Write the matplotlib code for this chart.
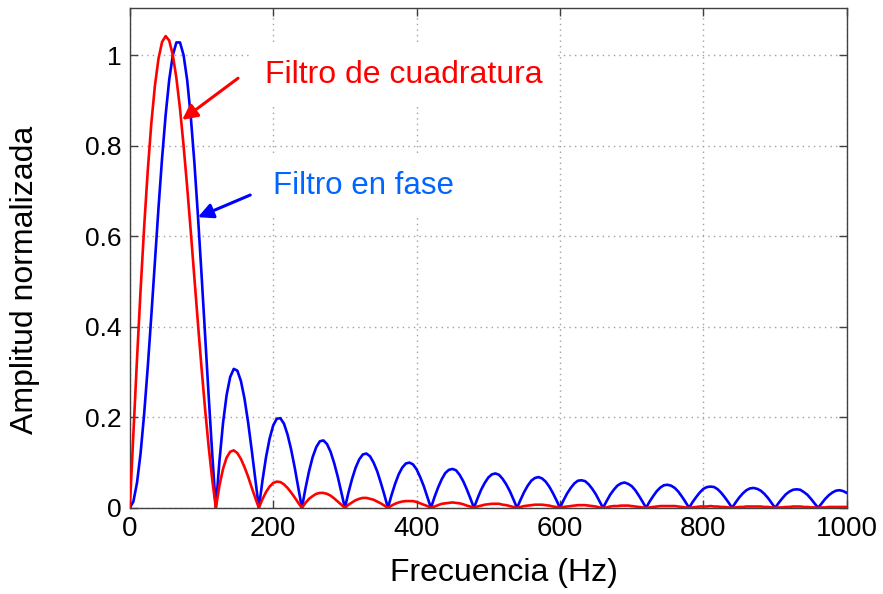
import numpy as np
import matplotlib
matplotlib.use("Agg")
import matplotlib.pyplot as plt

# Frequency grid (Hz), one sample every 5 Hz
freq = np.arange(0, 1001, 5)

# Normalised magnitude of the in-phase filter
en_fase = [
    0.000, 0.014, 0.055, 0.120, 0.207, 0.310, 0.424, 0.544, 0.662, 0.772,
    0.868, 0.946, 1.000, 1.028, 1.028, 1.000, 0.945, 0.865, 0.764, 0.646,
    0.517, 0.382, 0.247, 0.118,
    0.000, 0.103, 0.187, 0.249, 0.289, 0.307, 0.303, 0.280, 0.241, 0.189, 0.128, 0.064,
    0.000, 0.060, 0.112, 0.153, 0.182, 0.197, 0.198, 0.186, 0.162, 0.129, 0.089, 0.045,
    0.000, 0.043, 0.081, 0.112, 0.134, 0.147, 0.149, 0.141, 0.124, 0.099, 0.069, 0.035,
    0.000, 0.034, 0.064, 0.089, 0.107, 0.118, 0.120, 0.114, 0.100, 0.081, 0.056, 0.029,
    0.000, 0.028, 0.053, 0.074, 0.089, 0.098, 0.100, 0.096, 0.085, 0.068, 0.048, 0.024,
    0.000, 0.024, 0.045, 0.063, 0.077, 0.084, 0.086, 0.083, 0.073, 0.059, 0.041, 0.021,
    0.000, 0.021, 0.040, 0.055, 0.067, 0.074, 0.076, 0.073, 0.064, 0.052, 0.037, 0.019,
    0.000, 0.018, 0.035, 0.049, 0.060, 0.066, 0.068, 0.065, 0.058, 0.047, 0.033, 0.017,
    0.000, 0.017, 0.032, 0.044, 0.054, 0.060, 0.061, 0.059, 0.052, 0.042, 0.030, 0.015,
    0.000, 0.015, 0.029, 0.040, 0.049, 0.054, 0.056, 0.053, 0.048, 0.039, 0.027, 0.014,
    0.000, 0.014, 0.026, 0.037, 0.045, 0.050, 0.051, 0.049, 0.044, 0.036, 0.025, 0.013,
    0.000, 0.013, 0.024, 0.034, 0.042, 0.046, 0.047, 0.046, 0.041, 0.033, 0.023, 0.012,
    0.000, 0.012, 0.023, 0.032, 0.039, 0.043, 0.044, 0.042, 0.038, 0.031, 0.022, 0.011,
    0.000, 0.011, 0.021, 0.030, 0.036, 0.040, 0.041, 0.040, 0.035, 0.029, 0.020, 0.010,
    0.000, 0.010, 0.020, 0.028, 0.034, 0.038, 0.039, 0.037, 0.033,
]

# Normalised magnitude of the quadrature filter
cuadratura = [
    0.000, 0.166, 0.327, 0.480, 0.620, 0.744, 0.849, 0.932, 0.992, 1.029,
    1.042, 1.032, 1.000, 0.949, 0.882, 0.800, 0.709, 0.611, 0.509, 0.408,
    0.310, 0.218, 0.135, 0.062,
    0.000, 0.049, 0.086, 0.111, 0.124, 0.127, 0.121, 0.108, 0.090, 0.069, 0.045, 0.022,
    0.000, 0.019, 0.035, 0.047, 0.055, 0.058, 0.057, 0.052, 0.044, 0.034, 0.023, 0.011,
    0.000, 0.011, 0.020, 0.026, 0.031, 0.033, 0.033, 0.031, 0.027, 0.021, 0.014, 0.007,
    0.000, 0.007, 0.012, 0.017, 0.020, 0.022, 0.022, 0.020, 0.018, 0.014, 0.010, 0.005,
    0.000, 0.005, 0.009, 0.012, 0.014, 0.015, 0.015, 0.015, 0.013, 0.010, 0.007, 0.004,
    0.000, 0.003, 0.006, 0.009, 0.010, 0.011, 0.012, 0.011, 0.010, 0.008, 0.005, 0.003,
    0.000, 0.003, 0.005, 0.007, 0.008, 0.009, 0.009, 0.009, 0.007, 0.006, 0.004, 0.002,
    0.000, 0.002, 0.004, 0.005, 0.006, 0.007, 0.007, 0.007, 0.006, 0.005, 0.003, 0.002,
    0.000, 0.002, 0.003, 0.004, 0.005, 0.006, 0.006, 0.006, 0.005, 0.004, 0.003, 0.001,
    0.000, 0.001, 0.003, 0.004, 0.004, 0.005, 0.005, 0.005, 0.004, 0.003, 0.002, 0.001,
    0.000, 0.001, 0.002, 0.003, 0.004, 0.004, 0.004, 0.004, 0.004, 0.003, 0.002, 0.001,
    0.000, 0.001, 0.002, 0.003, 0.003, 0.003, 0.004, 0.003, 0.003, 0.002, 0.002, 0.001,
    0.000, 0.001, 0.002, 0.002, 0.003, 0.003, 0.003, 0.003, 0.003, 0.002, 0.002, 0.001,
    0.000, 0.001, 0.001, 0.002, 0.002, 0.003, 0.003, 0.003, 0.002, 0.002, 0.001, 0.001,
    0.000, 0.001, 0.001, 0.002, 0.002, 0.002, 0.002, 0.002, 0.002,
]

x_ticks = [0, 200, 400, 600, 800, 1000]
y_ticks = [0, 0.2, 0.4, 0.6, 0.8, 1.0]
y_tick_labels = ["0", "0.2", "0.4", "0.6", "0.8", "1"]

plt.rcParams["font.family"] = ["Liberation Sans", "DejaVu Sans"]

fig = plt.figure(figsize=(8.83, 5.94), dpi=100)
ax = fig.add_axes([0.147, 0.145, 0.812, 0.8415])

ax.plot(freq, en_fase, color="#0000ff", lw=1.9, zorder=3)
ax.plot(freq, cuadratura, color="#ff0000", lw=1.9, zorder=4)

ax.set_xlim(0, 1000)
ax.set_ylim(0, 1.104)
ax.set_xticks(x_ticks)
ax.set_yticks(y_ticks)
ax.set_yticklabels(y_tick_labels)

edge = "#404040"
for s in ax.spines.values():
    s.set_color(edge)
    s.set_linewidth(1.0)
ax.tick_params(direction="in", length=5.5, width=1.0, color=edge,
               top=True, right=True, labelsize=19, pad=6)
ax.tick_params(axis="x", labelsize=20)

ax.grid(True, color="#a0a0a0", linestyle=(0, (1, 3)), linewidth=1.0)
ax.set_axisbelow(True)

ax.set_xlabel("Frecuencia (Hz)", fontsize=23)
ax.xaxis.set_label_coords(0.522, -0.13)
ax.xaxis.label.set_va("center")
ax.set_ylabel("Amplitud normalizada", fontsize=23)
ax.yaxis.set_label_coords(-0.146, 0.456)
ax.yaxis.label.set_va("center")

ax.text(189, 0.956, "Filtro de cuadratura", color="#ff0000", fontsize=23,
        va="center", ha="left", zorder=5,
        bbox=dict(boxstyle="square,pad=0.45", fc="white", ec="none"))
ax.text(200, 0.711, "Filtro en fase", color="#0066ff", fontsize=22.5,
        va="center", ha="left", zorder=5,
        bbox=dict(boxstyle="square,pad=0.45", fc="white", ec="none"))

ax.annotate("", xy=(73, 0.857), xytext=(151, 0.949), zorder=6,
            arrowprops=dict(arrowstyle="-|>,head_length=0.9,head_width=0.45",
                            color="#ff0000", lw=2.2, shrinkA=0, shrinkB=0))
ax.annotate("", xy=(95, 0.642), xytext=(168, 0.691), zorder=6,
            arrowprops=dict(arrowstyle="-|>,head_length=0.9,head_width=0.45",
                            color="#0000ff", lw=2.2, shrinkA=0, shrinkB=0))

fig.savefig("out.png", dpi=100)
